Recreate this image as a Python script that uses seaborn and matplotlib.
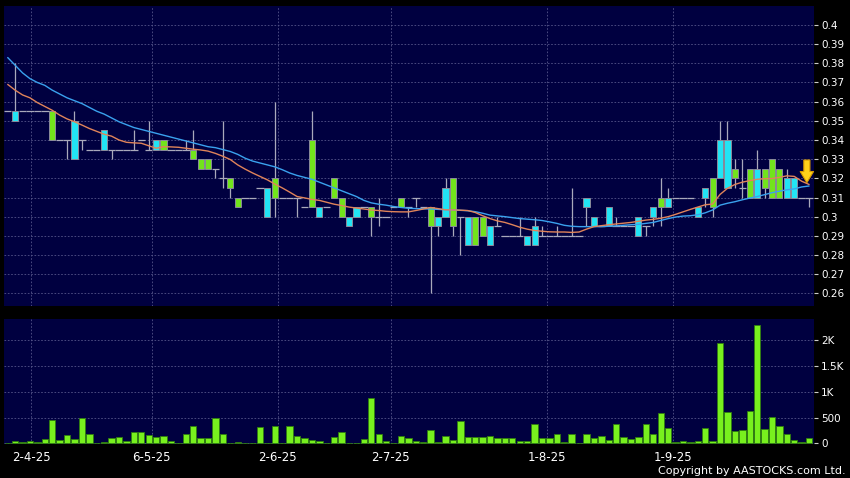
import numpy as np
import pandas as pd
import matplotlib
matplotlib.use("Agg")
import matplotlib.pyplot as plt
import seaborn as sns

# daily bars, left to right (no-trade days are skipped by the source chart)
opens = [0.355, 0.350, 0.355, 0.355, 0.355, 0.355, 0.355, 0.340, 0.340, 0.330,
         0.340, 0.335, 0.335, 0.335, 0.335, 0.335, 0.335, 0.335, 0.340, 0.335,
         0.335, 0.340, 0.335, 0.335, 0.335, 0.335, 0.330, 0.330, 0.325, 0.320,
         0.320, 0.310, 0.310, 0.310, 0.315, 0.300, 0.320, 0.310, 0.310, 0.310,
         0.305, 0.340, 0.300, 0.305, 0.320, 0.310, 0.295, 0.300, 0.305, 0.305,
         0.300, 0.300, 0.305, 0.310, 0.305, 0.310, 0.305, 0.305, 0.295, 0.300,
         0.320, 0.300, 0.285, 0.300, 0.300, 0.285, 0.295, 0.290, 0.290, 0.290,
         0.285, 0.285, 0.290, 0.290, 0.290, 0.290, 0.290, 0.290, 0.305, 0.295,
         0.295, 0.295, 0.295, 0.295, 0.295, 0.290, 0.295, 0.300, 0.310, 0.305,
         0.310, 0.310, 0.310, 0.300, 0.310, 0.320, 0.320, 0.315, 0.325, 0.315,
         0.325, 0.310, 0.325, 0.330, 0.325, 0.310, 0.310, 0.310, 0.310]
highs = [0.355, 0.380, 0.355, 0.355, 0.355, 0.355, 0.355, 0.340, 0.340, 0.355,
         0.340, 0.335, 0.335, 0.345, 0.335, 0.335, 0.335, 0.345, 0.340, 0.350,
         0.340, 0.340, 0.335, 0.335, 0.340, 0.345, 0.330, 0.330, 0.325, 0.350,
         0.320, 0.310, 0.310, 0.310, 0.315, 0.315, 0.360, 0.310, 0.310, 0.310,
         0.305, 0.355, 0.305, 0.305, 0.320, 0.310, 0.300, 0.305, 0.305, 0.305,
         0.310, 0.300, 0.305, 0.310, 0.305, 0.310, 0.305, 0.305, 0.300, 0.320,
         0.320, 0.300, 0.300, 0.300, 0.300, 0.295, 0.300, 0.290, 0.290, 0.300,
         0.290, 0.300, 0.295, 0.290, 0.295, 0.290, 0.315, 0.290, 0.310, 0.300,
         0.295, 0.305, 0.300, 0.295, 0.295, 0.300, 0.295, 0.305, 0.320, 0.315,
         0.310, 0.310, 0.310, 0.305, 0.315, 0.320, 0.350, 0.350, 0.330, 0.330,
         0.325, 0.335, 0.325, 0.330, 0.325, 0.325, 0.320, 0.310, 0.310]
lows = [0.355, 0.350, 0.355, 0.355, 0.355, 0.355, 0.340, 0.340, 0.330, 0.330,
        0.335, 0.335, 0.335, 0.335, 0.330, 0.335, 0.335, 0.335, 0.340, 0.335,
        0.335, 0.335, 0.335, 0.335, 0.335, 0.330, 0.325, 0.325, 0.320, 0.315,
        0.310, 0.305, 0.310, 0.310, 0.315, 0.300, 0.300, 0.310, 0.310, 0.300,
        0.305, 0.305, 0.300, 0.305, 0.310, 0.300, 0.295, 0.300, 0.305, 0.290,
        0.295, 0.300, 0.305, 0.305, 0.300, 0.305, 0.305, 0.260, 0.290, 0.300,
        0.290, 0.280, 0.285, 0.285, 0.290, 0.285, 0.295, 0.290, 0.290, 0.290,
        0.285, 0.285, 0.290, 0.290, 0.290, 0.290, 0.290, 0.290, 0.295, 0.295,
        0.295, 0.295, 0.295, 0.295, 0.295, 0.290, 0.290, 0.295, 0.295, 0.305,
        0.310, 0.310, 0.310, 0.300, 0.305, 0.300, 0.320, 0.315, 0.315, 0.310,
        0.310, 0.310, 0.310, 0.310, 0.310, 0.310, 0.310, 0.310, 0.305]
closes = [0.355, 0.355, 0.355, 0.355, 0.355, 0.355, 0.340, 0.340, 0.340, 0.350,
          0.340, 0.335, 0.335, 0.345, 0.335, 0.335, 0.335, 0.335, 0.340, 0.335,
          0.340, 0.335, 0.335, 0.335, 0.335, 0.330, 0.325, 0.325, 0.325, 0.320,
          0.315, 0.305, 0.310, 0.310, 0.315, 0.315, 0.310, 0.310, 0.310, 0.310,
          0.305, 0.305, 0.305, 0.305, 0.310, 0.300, 0.300, 0.305, 0.305, 0.300,
          0.300, 0.300, 0.305, 0.305, 0.305, 0.310, 0.305, 0.295, 0.300, 0.315,
          0.295, 0.300, 0.300, 0.285, 0.290, 0.295, 0.295, 0.290, 0.290, 0.290,
          0.290, 0.295, 0.290, 0.290, 0.290, 0.290, 0.290, 0.290, 0.310, 0.300,
          0.295, 0.305, 0.295, 0.295, 0.295, 0.300, 0.295, 0.305, 0.305, 0.310,
          0.310, 0.310, 0.310, 0.305, 0.315, 0.305, 0.340, 0.340, 0.320, 0.315,
          0.310, 0.325, 0.315, 0.310, 0.310, 0.320, 0.320, 0.310, 0.310]
volume = [10, 45, 25, 45, 25, 75, 450, 65, 165, 75,
          495, 180, 5, 30, 110, 130, 45, 220, 220, 160,
          120, 150, 45, 15, 180, 330, 110, 110, 500, 175,
          5, 20, 3, 3, 320, 3, 340, 3, 340, 140,
          110, 60, 45, 15, 130, 210, 5, 15, 85, 870,
          190, 50, 5, 150, 110, 50, 20, 250, 30, 150,
          65, 430, 130, 115, 120, 135, 95, 95, 100, 45,
          40, 365, 100, 95, 190, 20, 175, 15, 190, 110,
          140, 60, 380, 120, 80, 115, 370, 185, 580, 290,
          25, 45, 20, 45, 305, 45, 1935, 600, 240, 260,
          630, 2290, 270, 515, 335, 180, 65, 30, 95]
ma_short = [0.3690, 0.3660, 0.3635, 0.3620, 0.3595, 0.3575, 0.3555, 0.3530, 0.3510, 0.3495,
            0.3478, 0.3460, 0.3445, 0.3430, 0.3420, 0.3400, 0.3388, 0.3385, 0.3383, 0.3370,
            0.3357, 0.3365, 0.3364, 0.3362, 0.3357, 0.3352, 0.3348, 0.3342, 0.3330, 0.3315,
            0.3298, 0.3270, 0.3248, 0.3228, 0.3210, 0.3192, 0.3170, 0.3150, 0.3128, 0.3105,
            0.3098, 0.3090, 0.3085, 0.3075, 0.3065, 0.3058, 0.3050, 0.3045, 0.3040, 0.3035,
            0.3032, 0.3028, 0.3026, 0.3025, 0.3025, 0.3032, 0.3040, 0.3048, 0.3042, 0.3036,
            0.3035, 0.3034, 0.3032, 0.3022, 0.3005, 0.2990, 0.2978, 0.2970, 0.2958, 0.2945,
            0.2935, 0.2928, 0.2924, 0.2921, 0.2920, 0.2920, 0.2918, 0.2920, 0.2935, 0.2948,
            0.2953, 0.2958, 0.2962, 0.2966, 0.2970, 0.2976, 0.2982, 0.2986, 0.2992, 0.3000,
            0.3012, 0.3025, 0.3038, 0.3050, 0.3062, 0.3066, 0.3116, 0.3148, 0.3168, 0.3180,
            0.3188, 0.3195, 0.3198, 0.3199, 0.3205, 0.3213, 0.3210, 0.3185, 0.3168]
ma_long = [0.3830, 0.3790, 0.3750, 0.3720, 0.3700, 0.3685, 0.3660, 0.3640, 0.3620, 0.3605,
           0.3590, 0.3570, 0.3550, 0.3535, 0.3515, 0.3495, 0.3480, 0.3465, 0.3455, 0.3445,
           0.3435, 0.3425, 0.3415, 0.3405, 0.3395, 0.3385, 0.3375, 0.3365, 0.3360, 0.3350,
           0.3340, 0.3325, 0.3305, 0.3290, 0.3280, 0.3270, 0.3260, 0.3245, 0.3228, 0.3215,
           0.3205, 0.3195, 0.3180, 0.3165, 0.3150, 0.3135, 0.3120, 0.3105, 0.3085, 0.3072,
           0.3065, 0.3060, 0.3053, 0.3048, 0.3044, 0.3042, 0.3041, 0.3040, 0.3038, 0.3036,
           0.3035, 0.3033, 0.3031, 0.3026, 0.3018, 0.3008, 0.3004, 0.3000, 0.2995, 0.2990,
           0.2987, 0.2984, 0.2980, 0.2973, 0.2965, 0.2955, 0.2950, 0.2948, 0.2948, 0.2948,
           0.2948, 0.2950, 0.2952, 0.2955, 0.2958, 0.2960, 0.2965, 0.2970, 0.2980, 0.2990,
           0.2998, 0.3003, 0.3005, 0.3010, 0.3020, 0.3035, 0.3060, 0.3070, 0.3078, 0.3088,
           0.3097, 0.3105, 0.3115, 0.3125, 0.3133, 0.3140, 0.3145, 0.3155, 0.3160]

date_labels = ["2-4-25", "6-5-25", "2-6-25", "2-7-25", "1-8-25", "1-9-25"]
date_pos = [3.2, 19.4, 36.4, 51.6, 72.7, 89.7]
price_ticks = [0.26, 0.27, 0.28, 0.29, 0.30, 0.31, 0.32, 0.33, 0.34, 0.35,
               0.36, 0.37, 0.38, 0.39, 0.40]
vol_ticks = [0, 500, 1000, 1500, 2000]
vol_labels = ["0", "500", "1K", "1.5K", "2K"]

df = pd.DataFrame({"i": np.arange(len(opens)), "open": opens, "high": highs,
                   "low": lows, "close": closes, "volume": volume,
                   "ma_short": ma_short, "ma_long": ma_long})

sns.set_style("dark")
plt.rcParams["font.family"] = ["DejaVu Sans"]

BG = "#000040"
GRID = "#55558a"
UP = "#22e4f4"
DOWN = "#72e41c"
WICK = "#a9a9bb"

fig = plt.figure(figsize=(8.5, 4.78), dpi=100, facecolor="black")
ax_p = fig.add_axes([4 / 850, 1 - 306 / 478, 810 / 850, 300 / 478])
ax_v = fig.add_axes([4 / 850, 1 - 444 / 478, 810 / 850, 125 / 478])

for ax in (ax_p, ax_v):
    ax.set_facecolor(BG)
    for s in ax.spines.values():
        s.set_visible(False)

# --- price panel: candles ---
o = df["open"].to_numpy()
h = df["high"].to_numpy()
l = df["low"].to_numpy()
c = df["close"].to_numpy()
x = df["i"].to_numpy()

has_range = ~np.isclose(h, l)
ax_p.vlines(x[has_range], l[has_range], h[has_range], color=WICK, lw=0.9, zorder=2)

flat_body = np.isclose(o, c)
ax_p.hlines(o[flat_body], x[flat_body] - 0.5, x[flat_body] + 0.5, color=WICK, lw=0.9, zorder=2)

body = ~flat_body
bcol = np.where(c[body] > o[body], UP, DOWN)
ax_p.bar(x[body], np.abs(c[body] - o[body]), bottom=np.minimum(o[body], c[body]),
         width=0.82, color=bcol, edgecolor="#8a8a9a", linewidth=0.7, zorder=3)

sns.lineplot(data=df, x="i", y="ma_long", ax=ax_p, color="#3aa2ee", lw=1.0, zorder=4)
sns.lineplot(data=df, x="i", y="ma_short", ax=ax_p, color="#e0845a", lw=1.0, zorder=4)

ax_p.annotate("", xy=(107.7, 0.3163), xytext=(107.7, 0.3310),
              arrowprops=dict(arrowstyle="simple,head_width=1.2,head_length=1.0,tail_width=0.55",
                              mutation_scale=8, fc="#ffd21a", ec="#d89a00", lw=0.8),
              zorder=6)

ax_p.set_xlim(-0.5, 108.66)
ax_p.set_ylim(0.2534, 0.4099)
ax_p.set_yticks(price_ticks)
ax_p.set_yticklabels([f"{t:g}" for t in price_ticks])
ax_p.set_xticks(date_pos)
ax_p.set_xticklabels([])
ax_p.yaxis.tick_right()
ax_p.tick_params(axis="y", colors="#cccccc", labelcolor="white", labelsize=7.5,
                 length=3, width=0.8, pad=2, direction="out")
ax_p.tick_params(axis="x", length=0)
ax_p.grid(True, color=GRID, linestyle=(0, (2, 2)), lw=0.6)
ax_p.set_xlabel("")
ax_p.set_ylabel("")

# --- volume panel ---
sns.barplot(data=df, x="i", y="volume", ax=ax_v, native_scale=True, width=0.86,
            color="#78f01e", edgecolor="#2f7d10", linewidth=0.6, saturation=1, zorder=3)
ax_v.set_xlim(-0.5, 108.66)
ax_v.set_ylim(-13, 2409)
ax_v.set_yticks(vol_ticks)
ax_v.set_yticklabels(vol_labels)
ax_v.set_xticks(date_pos)
ax_v.set_xticklabels(date_labels)
ax_v.yaxis.tick_right()
ax_v.tick_params(axis="y", colors="#cccccc", labelcolor="white", labelsize=7.5,
                 length=3, width=0.8, pad=2)
ax_v.tick_params(axis="x", colors="#cccccc", labelcolor="white", labelsize=8.5,
                 length=3, width=0.8, pad=2)
ax_v.grid(True, color=GRID, linestyle=(0, (2, 2)), lw=0.6)
ax_v.set_xlabel("")
ax_v.set_ylabel("")

fig.text(846 / 850, 1 - 471 / 478, "Copyright by AASTOCKS.com Ltd.", ha="right",
         va="center", color="white", fontsize=8)

fig.savefig("out.png", dpi=100, facecolor="black")
